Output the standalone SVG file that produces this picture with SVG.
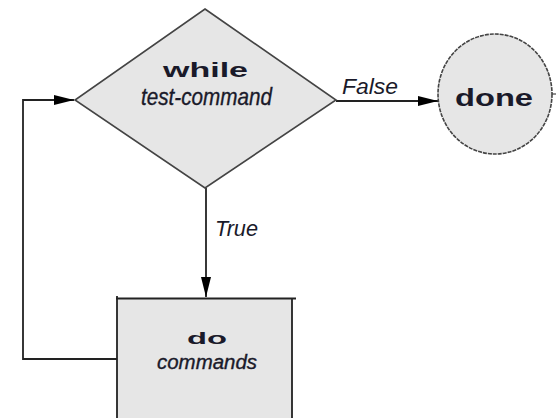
<svg xmlns="http://www.w3.org/2000/svg" width="556" height="418" viewBox="0 0 556 418">
  <style>
    .shape { fill: #e6e6e6; stroke: #444; stroke-width: 1.6; }
    .line { fill: none; stroke: #222; stroke-width: 1.8; }
    .bold { font-family: "Liberation Sans", Arial, sans-serif; font-weight: bold; fill: #1a1a2a; }
    .ital { font-family: "Liberation Sans", Arial, sans-serif; font-style: italic; fill: #1a1a2a; }
    .narrow { font-family: "Liberation Sans Narrow", "Liberation Sans", Arial, sans-serif; font-style: italic; fill: #1a1a2a; stroke: #1a1a2a; stroke-width: 0.35; }
  </style>
  <defs>
    <marker id="arrow" viewBox="0 0 20 10" refX="20" refY="5" markerWidth="20" markerHeight="10" markerUnits="userSpaceOnUse" orient="auto">
      <path d="M0,0 L20,5 L0,10 Z" fill="#000"/>
    </marker>
  </defs>

  <rect width="556" height="418" fill="#fff"/>

  <!-- connectors -->
  <g id="connectors">
    <!-- false branch -->
    <line class="line" x1="336" y1="101" x2="438" y2="101" marker-end="url(#arrow)"/>
    <!-- true branch -->
    <line class="line" x1="206" y1="188" x2="206" y2="297" marker-end="url(#arrow)"/>
    <!-- loop back from body to condition -->
    <polyline class="line" points="117,359 23,359 23,100 74,100" marker-end="url(#arrow)"/>
    <text class="ital" x="342" y="94" font-size="22" textLength="56" lengthAdjust="spacingAndGlyphs">False</text>
    <text class="ital" x="215" y="236" font-size="22" textLength="43" lengthAdjust="spacingAndGlyphs">True</text>
  </g>

  <!-- condition -->
  <g id="while">
    <polygon class="shape" points="205,9 336,100 205,188 75,100"/>
    <text class="bold" x="163" y="77" font-size="20" textLength="85" lengthAdjust="spacingAndGlyphs">while</text>
    <text class="narrow" x="141" y="105" font-size="24" textLength="131" lengthAdjust="spacingAndGlyphs">test-command</text>
  </g>

  <!-- exit -->
  <g id="done">
    <ellipse class="shape" cx="495" cy="94" rx="57" ry="60" stroke-dasharray="4 1"/>
    <line x1="552" y1="94" x2="556" y2="94" stroke="#444" stroke-width="1.2"/>
    <text class="bold" x="455" y="106" font-size="24" textLength="78" lengthAdjust="spacingAndGlyphs">done</text>
  </g>

  <!-- loop body -->
  <g id="do">
    <rect x="117" y="298" width="175" height="130" fill="#e6e6e6"/>
    <path d="M117,296 V418 M116,298.5 H296 M292,298 V418" fill="none" stroke="#222" stroke-width="1.8"/>
    <text class="bold" x="187" y="344" font-size="17" textLength="40" lengthAdjust="spacingAndGlyphs">do</text>
    <text class="narrow" x="157" y="369" font-size="20" textLength="100" lengthAdjust="spacingAndGlyphs">commands</text>
  </g>
</svg>
